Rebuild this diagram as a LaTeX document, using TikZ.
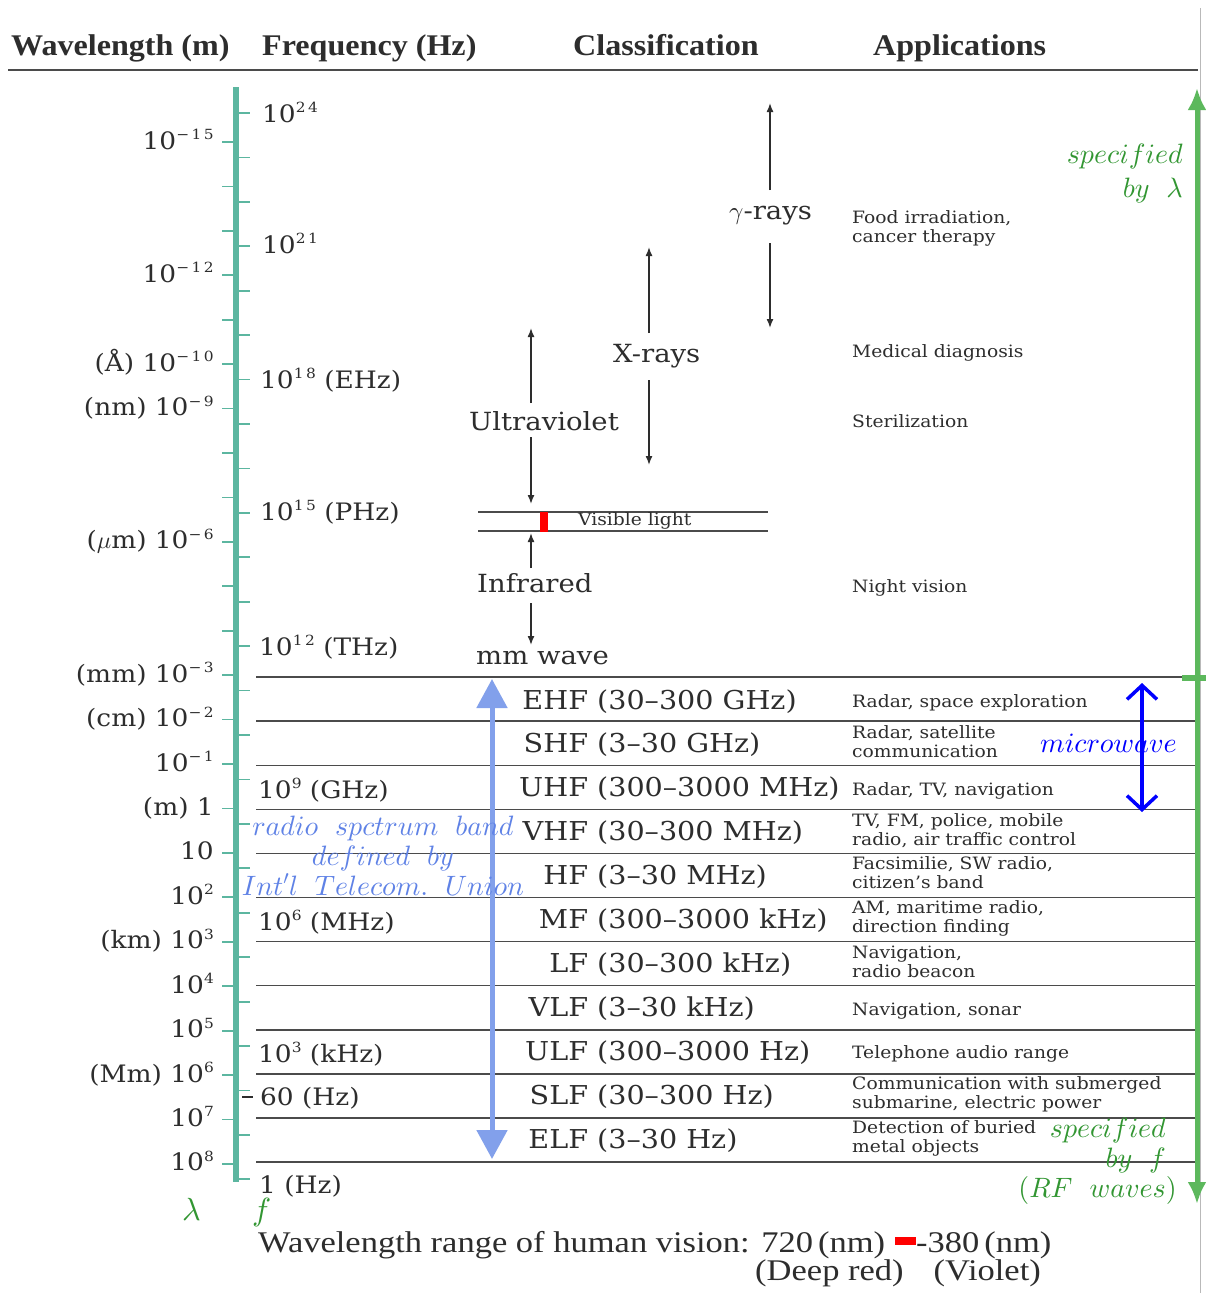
\documentclass[tikz,border=0pt]{standalone}
\usepackage{fontspec}
\usetikzlibrary{arrows.meta}
\DeclareFontShape{OML}{cmm}{m}{it}{<->cmmi10}{}
\DeclareFontShape{OMS}{cmsy}{m}{n}{<->cmsy10}{}
\DeclareFontShape{OT1}{cmr}{m}{n}{<->cmr10}{}
\newfontfamily\bk{DejaVu Serif}[FakeStretch=1.1]
\newfontfamily\bksup{DejaVu Serif}[FakeStretch=1.1,LetterSpace=18]
\newfontfamily\hd{Liberation Serif}[FakeStretch=1.07]
\newfontfamily\tm{Liberation Serif}[FakeStretch=1.15]
\definecolor{axisc}{RGB}{92,182,160}
\definecolor{txt}{RGB}{45,45,45}
\definecolor{sepc}{RGB}{75,75,75}
\definecolor{grnA}{RGB}{92,184,92}
\definecolor{grnT}{RGB}{50,150,50}
\definecolor{lblue}{RGB}{130,160,235}
\definecolor{tblue}{RGB}{95,130,230}
\newcommand\pw[1]{\raisebox{9.5pt}{\bksup\fontsize{14}{14}\selectfont #1}}
\tikzset{
  lbl/.style={inner sep=0pt, text=txt},
  head/.style={lbl, anchor=base west, font=\hd\bfseries\fontsize{30}{34}\selectfont},
  wl/.style={lbl, anchor=base east, font=\bk\fontsize{24}{28}\selectfont},
  fq/.style={lbl, anchor=base west, font=\bk\fontsize{24}{28}\selectfont},
  cls/.style={lbl, anchor=base west, font=\bk\fontsize{25}{29}\selectfont},
  band/.style={lbl, anchor=base west, font=\bk\fontsize{26}{30}\selectfont},
  app/.style={lbl, anchor=base west, align=left, font=\bk\fontsize{17}{18.5}\selectfont},
  bot/.style={lbl, font=\tm\fontsize{30}{34}\selectfont},
  ann/.style={inner sep=0pt, font=\fontsize{28}{30}\selectfont},
  tk/.style={draw=axisc, line width=1.8pt},
  sepl/.style={draw=sepc, line width=1.4pt},
  garr/.style={draw=txt, line width=1.5pt, -{Latex[length=9pt,width=7pt]}},
  greenarrow/.style={draw=grnA, line width=5pt, -{Latex[length=22pt,width=19pt]}},
}
\begin{document}
\begin{tikzpicture}[x=1pt,y=-1pt]
\useasboundingbox (0,0) rectangle (1206,1293);
\fill[white] (0,0) rectangle (1206,1293);

% page edge and header
\draw[gray!55, line width=1.2pt] (1200.5,8) -- (1200.5,1293);
\node[head] (hwl) at (11,55) {Wavelength (m)};
\node[head] (hfq) at (262,55) {Frequency (Hz)};
\node[head] (hcl) at (573,55) {Classification};
\node[head] (hap) at (873,55) {Applications};
\draw[sepc, line width=1.6pt] (8,70) -- (1198,70);

% axis and ticks
\draw[axisc, line width=6pt] (236,87) -- (236,1182);
\foreach \k in {0,...,23} \draw[tk] (222,{142+44.43*\k}) -- (236,{142+44.43*\k});
\foreach \j in {0,...,24} \draw[tk] (236,{113+44.43*\j}) -- (250,{113+44.43*\j});

% wavelength labels
\foreach \k/\t in {0/{10\pw{−15}}, 3/{10\pw{−12}}, 5/{(Å) 10\pw{−10}}, 6/{(nm) 10\pw{−9}},
  9/{($\mu$m) 10\pw{−6}}, 12/{(mm) 10\pw{−3}}, 13/{(cm) 10\pw{−2}}, 14/{10\pw{−1}},
  15/{(m) 1}, 16/{10}, 17/{10\pw{2}}, 18/{(km) 10\pw{3}}, 19/{10\pw{4}}, 20/{10\pw{5}},
  21/{(Mm) 10\pw{6}}, 22/{10\pw{7}}, 23/{10\pw{8}}}
  \node[wl] (wl\k) at (214,{149+44.43*\k}) {\t};

% frequency labels
\node[fq] (f24) at (262,122) {10\pw{24}};
\node[fq] (f21) at (262,253) {10\pw{21}};
\node[fq] (f18) at (260,388) {10\pw{18} (EHz)};
\node[fq] (f15) at (260,520) {10\pw{15} (PHz)};
\node[fq] (f12) at (259,655) {10\pw{12} (THz)};
\node[fq] (f9) at (258,798) {10\pw{9} (GHz)};
\node[fq] (f6) at (258,930) {10\pw{6} (MHz)};
\node[fq] (f3) at (258,1062) {10\pw{3} (kHz)};
\node[fq] (f60) at (260,1105) {60 (Hz)};
\node[fq] (f0) at (259,1193) {1 (Hz)};
\draw[txt, line width=1.5pt] (242,1097) -- (253,1097);

% upper classification
\node[cls] (gam) at (729,219) {$\gamma$-rays};
\coordinate (gA) at (770,190); \coordinate (gT) at (770,103);
\coordinate (gB) at (770,243); \coordinate (gD) at (770,328);
\draw[garr] (gA) -- (gT); \draw[garr] (gB) -- (gD);

\node[cls] (xr) at (613,362) {X-rays};
\coordinate (xA) at (649,333); \coordinate (xT) at (649,247);
\coordinate (xB) at (649,380); \coordinate (xD) at (649,465);
\draw[garr] (xA) -- (xT); \draw[garr] (xB) -- (xD);

\node[cls] (uv) at (469,430) {Ultraviolet};
\coordinate (uA) at (531,403); \coordinate (uT) at (531,328);
\coordinate (uB) at (531,437); \coordinate (uD) at (531,504);
\draw[garr] (uA) -- (uT); \draw[garr] (uB) -- (uD);

\draw[sepl, line width=1.3pt] (478,512) -- (768,512);
\draw[sepl, line width=1.3pt] (478,531) -- (768,531);
\fill[red] (540,512) rectangle (548,532);
\node[lbl, anchor=base west, font=\bk\fontsize{17}{19}\selectfont] (vis) at (578,525) {Visible light};

\node[cls] (ir) at (477,592) {Infrared};
\coordinate (iA) at (531,568); \coordinate (iT) at (531,533);
\coordinate (iB) at (531,603); \coordinate (iD) at (531,645);
\draw[garr] (iA) -- (iT); \draw[garr] (iB) -- (iD);
\node[cls] (mmw) at (476,664) {mm wave};

% band separators
\foreach \i in {0,...,11} \draw[sepl] (256,{677+44.1*\i}) -- (1198,{677+44.1*\i});

% bands
\foreach \i/\a/\b in {0/EHF/{30–300 GHz}, 1/SHF/{3–30 GHz}, 2/UHF/{300–3000 MHz},
  3/VHF/{30–300 MHz}, 4/HF/{3–30 MHz}, 5/MF/{300–3000 kHz}, 6/LF/{30–300 kHz},
  7/VLF/{3–30 kHz}, 8/ULF/{300–3000 Hz}, 9/SLF/{30–300 Hz}, 10/ELF/{3–30 Hz}}
  \node[band] (b\a) at (597,{709+43.9*\i}) {\llap{\a\ }(\b)};

% applications (multi-line nodes are placed by their last baseline)
\node[app] (a1) at (852,242) {Food irradiation,\\cancer therapy};
\node[app] (a2) at (852,357) {Medical diagnosis};
\node[app] (a3) at (852,427) {Sterilization};
\node[app] (a4) at (852,592) {Night vision};
\node[app] (a5) at (852,707) {Radar, space exploration};
\node[app] (a6) at (852,757) {Radar, satellite\\communication};
\node[app] (a7) at (852,795) {Radar, TV, navigation};
\node[app] (a8) at (852,845) {TV, FM, police, mobile\\radio, air traffic control};
\node[app] (a9) at (852,888) {Facsimilie, SW radio,\\citizen’s band};
\node[app] (a10) at (852,932) {AM, maritime radio,\\direction finding};
\node[app] (a11) at (852,977) {Navigation,\\radio beacon};
\node[app] (a12) at (852,1015) {Navigation, sonar};
\node[app] (a13) at (852,1058) {Telephone audio range};
\node[app] (a14) at (852,1108) {Communication with submerged\\submarine, electric power};
\node[app] (a15) at (852,1152) {Detection of buried\\metal objects};

% radio spectrum arrow (light blue)
\coordinate (rT) at (492,679); \coordinate (rB) at (492,1159);
\draw[lblue, line width=5pt, {Triangle[length=29pt,width=30pt]}-{Triangle[length=29pt,width=30pt]}] (rT) -- (rB);
\node[ann, text=tblue, align=center, anchor=base] (itu) at (383,895)
  {$radio\ \ spctrum\ \ band$\\$defined\ \ by$\\$Int'l\ \ Telecom.\ \ Union$};

% microwave arrow
\coordinate (mwT) at (1142,683); \coordinate (mwB) at (1142,812);
\draw[blue, line width=3.5pt, {Straight Barb[length=14pt,width=30pt]}-{Straight Barb[length=14pt,width=30pt]}] (mwT) -- (mwB);
\node[ann, text=blue, anchor=base west] (mw) at (1040,752) {$microwave$};

% green specification arrows
\coordinate (gm) at (1197,678); \coordinate (gtop) at (1197,88); \coordinate (gbot) at (1197,1204);
\draw[greenarrow] (gm) -- (gtop);
\draw[greenarrow] (gm) -- (gbot);
\draw[grnA, line width=6pt] (1182,678) -- (1206,678);
\node[ann, text=grnT, align=right, anchor=base east, font=\fontsize{28}{34}\selectfont] (slam) at (1183,197)
  {$specified$\\$by\ \ \lambda$};
\node[ann, text=grnT, align=right, anchor=base east] (sfq) at (1177,1197)
  {$specified\hphantom{)}$\\$by\ \ f\hphantom{)}$\\$(RF\ \ waves)$};
\node[ann, text=grnT, anchor=base west, font=\fontsize{32}{36}\selectfont] (lam) at (182,1220) {$\lambda$};
\node[ann, text=grnT, anchor=base west, font=\fontsize{32}{36}\selectfont] (ff) at (252,1220) {$f$};

% human vision
\node[bot, anchor=base west] (hv) at (258,1252) {Wavelength range of human vision: 720\,(nm)};
\fill[red] (895,1237) rectangle (916,1245);
\node[bot, anchor=base west] (hv2) at (916,1252) {-380\,(nm)};
\node[bot, anchor=base east] (hv3) at (1041,1280) {(Deep red)\hspace{30pt}(Violet)};
\end{tikzpicture}
\end{document}
